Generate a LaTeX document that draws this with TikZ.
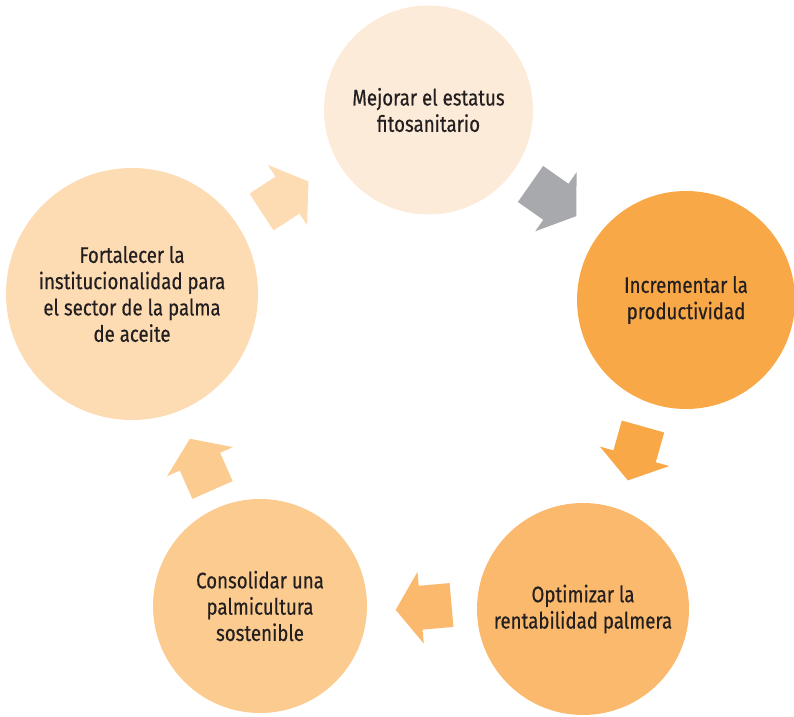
\documentclass[tikz,border=0pt]{standalone}
\usepackage{fontspec}
\setmainfont{Fira Sans}[FakeStretch=0.83,FakeBold=0.4]
\definecolor{cTop}{HTML}{FDEBD9}
\definecolor{cRight}{HTML}{F9A847}
\definecolor{cBR}{HTML}{FAB96C}
\definecolor{cBL}{HTML}{FBCB8F}
\definecolor{cLeft}{HTML}{FDDCB4}
\definecolor{cGray}{HTML}{A7A9AC}
\definecolor{cText}{HTML}{231F20}
\tikzset{
  circ/.style={circle, inner sep=0pt, align=center, text=cText,
    font=\fontsize{22.5}{26.3}\selectfont},
  blockarrow/.pic={\fill[#1] (0,-22) -- (31,-22) -- (31,-36) -- (56,0)
    -- (31,36) -- (31,22) -- (0,22) -- cycle;}
}
\begin{document}
\begin{tikzpicture}[x=1pt,y=1pt]
\useasboundingbox (0,0) rectangle (794,716);
\node[circ, fill=cTop, minimum size=209pt] (top) at (428.5,606) {Mejorar el estatus\\fitosanitario};
\node[circ, fill=cRight, minimum size=218pt] (right) at (686,416) {Incrementar la\\productividad};
\node[circ, fill=cBR, minimum size=212pt] (bright) at (583,107) {Optimizar la\\rentabilidad palmera};
\node[circ, fill=cBL, minimum size=214pt] (bleft) at (260,110) {Consolidar una\\palmicultura\\sostenible};
\node[circ, fill=cLeft, minimum size=252pt] (left) at (132,422) {Fortalecer la\\institucionalidad para\\el sector de la palma\\de aceite};
\pic[rotate=-35] (a1) at (530.5,532) {blockarrow=cGray};
\pic[rotate=-105.7] (a2) at (643,289.5) {blockarrow=cRight};
\pic[rotate=185] (a3) at (451.5,111) {blockarrow=cBR};
\pic[rotate=113.8] (a4) at (212.5,226) {blockarrow=cBL};
\pic[rotate=33] (a5) at (261.5,504) {blockarrow=cLeft};
\end{tikzpicture}
\end{document}
